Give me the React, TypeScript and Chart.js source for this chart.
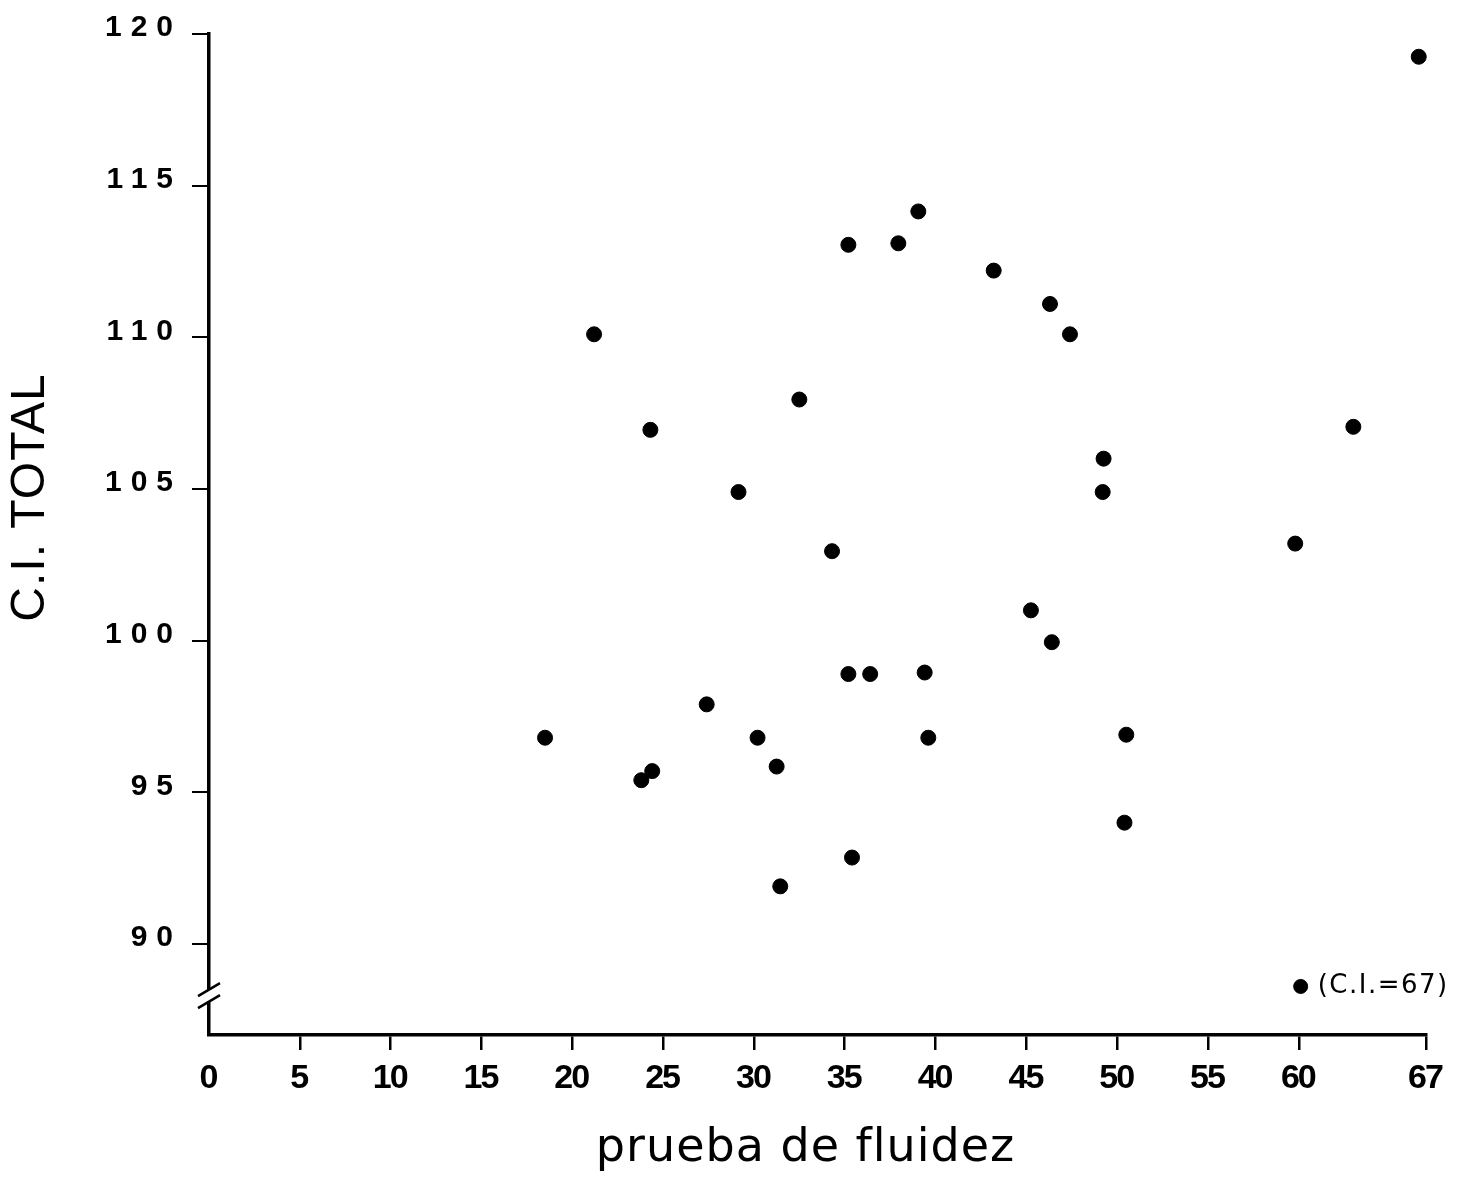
import React, { useEffect, useRef } from "react";
import { Chart, registerables } from "chart.js";

Chart.register(...registerables);

// Data
const fluidez = [
  18.5, 21.2, 23.8, 24.4, 24.3, 27.4, 29.15, 30.2, 31.25, 31.45, 32.5, 34.3,
  35.2, 35.2, 35.4, 36.4, 37.95, 39.05, 39.4, 39.6, 43.2, 45.25, 46.3, 46.4,
  47.4, 49.25, 49.2, 50.4, 50.5, 59.8, 63.0, 66.6,
];
const ciTotal = [
  96.8, 110.1, 95.4, 95.7, 106.95, 97.9, 104.9, 96.8, 95.85, 91.9, 107.95, 102.95,
  113.05, 98.9, 92.85, 98.9, 113.1, 114.15, 98.95, 96.8, 112.2, 101.0, 111.1, 99.95,
  110.1, 106.0, 104.9, 94.0, 96.9, 103.2, 107.05, 119.25,
];
// Outlier plotted below the axis break (actual C.I. = 67)
const outlierX = [60.1];
const outlierY = [88.6];
const outlierLabel = "(C.I.=67)";

const xTickValues = [0, 5, 10, 15, 20, 25, 30, 35, 40, 45, 50, 55, 60, 67];
const yTickValues = [90, 95, 100, 105, 110, 115, 120];
const xMin = 0;
const xMax = 67;
const yMin = 87;
const yMax = 120;
const yBreakAt = 88.3;

const xTitle = "prueba de fluidez";
const yTitle = "C.I. TOTAL";

const patchPlugin = {
  id: "patchScales",
  beforeDraw(chart: any) {
    const ys: any = chart.scales.y;
    const xs: any = chart.scales.x;
    const ctx = chart.ctx;
    if (ys && !ys._patched) {
      const origLabels = ys.drawLabels.bind(ys);
      ys.drawLabels = (area: any) => {
        ctx.save();
        (ctx as any).letterSpacing = "9px";
        ctx.translate(0, -6);
        origLabels(area);
        ctx.restore();
      };
      const origTitle = ys.drawTitle.bind(ys);
      ys.drawTitle = () => {
        ctx.save();
        (ctx as any).letterSpacing = "1px";
        ctx.translate(0, -37);
        origTitle();
        ctx.restore();
      };
      ys._patched = true;
    }
    if (xs && !xs._patched) {
      const origLabels = xs.drawLabels.bind(xs);
      xs.drawLabels = (area: any) => {
        ctx.save();
        (ctx as any).letterSpacing = "-2px";
        ctx.translate(-1, 0);
        origLabels(area);
        ctx.restore();
      };
      const origTitle = xs.drawTitle.bind(xs);
      xs.drawTitle = () => {
        ctx.save();
        (ctx as any).letterSpacing = "1px";
        ctx.translate(-12, 0);
        origTitle();
        ctx.restore();
      };
      xs._patched = true;
    }
  },
};

const decorPlugin = {
  id: "decor",
  afterDraw(chart: any) {
    const ctx = chart.ctx;
    const px = chart.scales.x.getPixelForValue(xMin);
    const py = chart.scales.y.getPixelForValue(yBreakAt);
    // axis break mark
    ctx.save();
    ctx.fillStyle = "#fff";
    ctx.fillRect(px - 5, py - 6, 10, 12);
    ctx.strokeStyle = "#000";
    ctx.lineWidth = 2.5;
    ctx.beginPath();
    ctx.moveTo(px - 11, py - 6 + 6.5);
    ctx.lineTo(px + 11, py - 6 - 6.5);
    ctx.moveTo(px - 11, py + 6 + 6.5);
    ctx.lineTo(px + 11, py + 6 - 6.5);
    ctx.stroke();
    ctx.restore();

    // outlier label
    const meta = chart.getDatasetMeta(1);
    const el = meta && meta.data[0];
    if (el) {
      ctx.save();
      ctx.fillStyle = "#000";
      ctx.font = "26px 'DejaVu Sans'";
      (ctx as any).letterSpacing = "1.5px";
      ctx.textAlign = "left";
      ctx.textBaseline = "middle";
      ctx.fillText(outlierLabel, el.x + 17, el.y);
      ctx.restore();
    }
  },
};

export default function App() {
  const ref = useRef<HTMLCanvasElement>(null);

  useEffect(() => {
    document.body.style.margin = "0";
    const mainPoints = fluidez.map((x, i) => ({ x, y: ciTotal[i] }));
    const outPoints = outlierX.map((x, i) => ({ x, y: outlierY[i] }));

    const xTickFont = { family: "'Liberation Sans'", size: 34, weight: "bold" as const };
    const yTickFont = { family: "'Liberation Sans'", size: 30, weight: "bold" as const };

    const chart = new Chart(ref.current!, {
      type: "scatter",
      data: {
        datasets: [
          {
            data: mainPoints,
            backgroundColor: "#000",
            borderColor: "#000",
            pointRadius: 7.5,
            pointHoverRadius: 7.5,
            clip: false as any,
          },
          {
            data: outPoints,
            backgroundColor: "#000",
            borderColor: "#000",
            pointRadius: 7,
            pointHoverRadius: 7,
            clip: false as any,
          },
        ],
      },
      options: {
        animation: false,
        responsive: false,
        maintainAspectRatio: false,
        layout: { padding: { top: 34, right: 43, bottom: 0, left: 0 } },
        plugins: {
          legend: { display: false },
          tooltip: { enabled: false },
        },
        scales: {
          x: {
            type: "linear",
            min: xMin,
            max: xMax,
            afterBuildTicks: (s: any) => {
              s.ticks = xTickValues.map((v) => ({ value: v }));
            },
            afterFit: (s: any) => {
              s.height = 142;
            },
            grid: {
              display: true,
              drawOnChartArea: false,
              drawTicks: true,
              tickLength: 15,
              lineWidth: 2.5,
              color: (c: any) => (c.tick && c.tick.value === xMin ? "rgba(0,0,0,0)" : "#000"),
            },
            border: { display: true, color: "#000", width: 3.5 },
            ticks: {
              color: "#000",
              font: xTickFont,
              padding: 8,
              maxRotation: 0,
              autoSkip: false,
              callback: (v: any) => String(v),
            },
            title: {
              display: true,
              text: xTitle,
              color: "#000",
              font: { family: "'DejaVu Sans'", size: 46, lineHeight: 1 },
              padding: { top: 0, bottom: 5 },
            },
          },
          y: {
            type: "linear",
            min: yMin,
            max: yMax,
            afterBuildTicks: (s: any) => {
              s.ticks = yTickValues.map((v) => ({ value: v }));
            },
            afterFit: (s: any) => {
              s.width = 209;
            },
            grid: {
              display: true,
              drawOnChartArea: false,
              drawTicks: true,
              tickLength: 17,
              lineWidth: 2,
              color: "#000",
            },
            border: { display: true, color: "#000", width: 3.5 },
            ticks: {
              color: "#000",
              font: yTickFont,
              padding: 10,
              autoSkip: false,
              callback: (v: any) => String(v),
            },
            title: {
              display: true,
              text: yTitle,
              color: "#000",
              font: { family: "'Liberation Sans'", size: 48, lineHeight: 1 },
              padding: { top: 7, bottom: 0 },
            },
          },
        },
      },
      plugins: [patchPlugin, decorPlugin],
    });

    return () => chart.destroy();
  }, []);

  return (
    <div style={{ width: 1469, height: 1177, background: "#fff" }}>
      <canvas
        ref={ref}
        width={1469}
        height={1177}
        style={{ display: "block", width: 1469, height: 1177 }}
      />
    </div>
  );
}
